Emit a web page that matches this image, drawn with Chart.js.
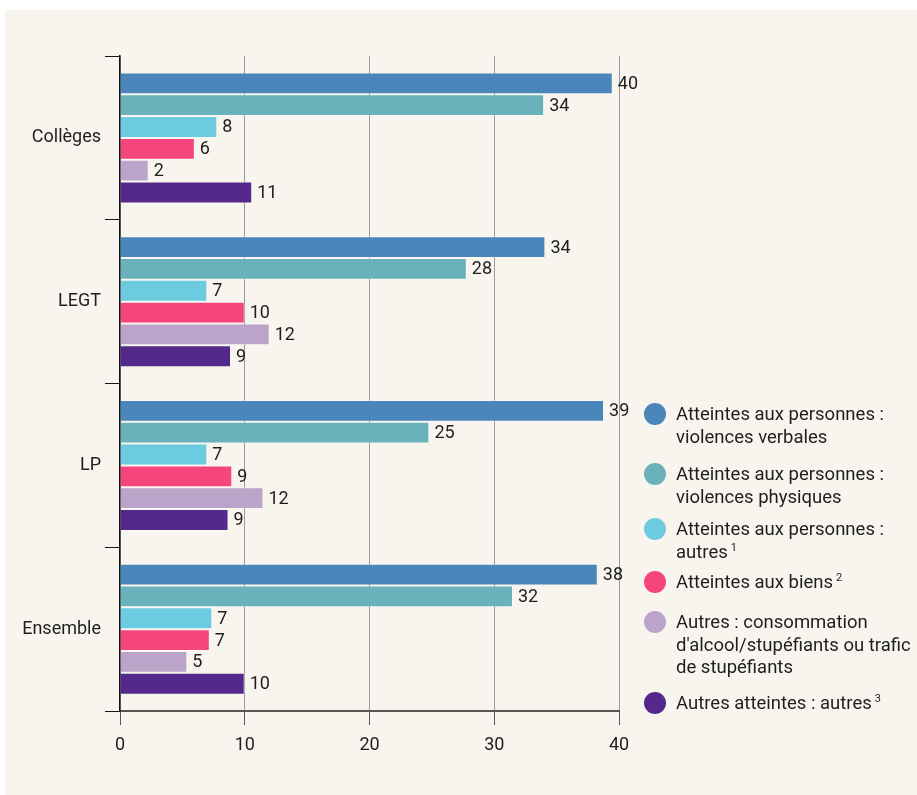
<!DOCTYPE html>
<html lang="fr">
<head>
<meta charset="utf-8">
<script src="https://cdn.jsdelivr.net/npm/chart.js@4/dist/chart.umd.min.js"></script>
<style>
  html, body { margin: 0; padding: 0; background: #fff; }
  body { width: 917px; height: 795px; position: relative; overflow: hidden; font-family: Roboto, "Noto Sans", sans-serif; }
  .panel { position: absolute; left: 5px; top: 10px; right: 0; bottom: 0; background: #f8f5ee; }
  .wrap { position: absolute; left: 0; top: 0; width: 917px; height: 795px; }
  .legend { position: absolute; left: 0; top: 0; }
  .item { position: absolute; left: 676px; font-size: 18.5px; line-height: 22.5px; color: #1e1e1e; white-space: nowrap; }
  .dot { position: absolute; left: -32px; width: 22px; height: 22px; border-radius: 50%; }
  sup { font-size: 11px; vertical-align: 0; position: relative; top: -7px; margin-left: 3px; }
</style>
</head>
<body>
<div class="panel"></div>
<div class="wrap"><canvas id="chart" width="917" height="795"></canvas></div>
<div class="legend" id="legend"></div>
<script>
const categories = ["Collèges", "LEGT", "LP", "Ensemble"];

// one array per series, in category order
const verbales        = [39.5, 34.1, 38.8, 38.3];
const physiques       = [34.0, 27.8, 24.8, 31.5];
const personnesAutres = [7.8, 7.0, 7.0, 7.4];
const biens           = [6.0, 10.0, 9.0, 7.2];
const stupefiants     = [2.3, 12.0, 11.5, 5.4];
const autresAtteintes = [10.6, 8.9, 8.7, 10.0];

const xTicks = [0, 10, 20, 30, 40];

const seriesLabels = [
  "Atteintes aux personnes :<br>violences verbales",
  "Atteintes aux personnes :<br>violences physiques",
  "Atteintes aux personnes :<br>autres<sup>1</sup>",
  "Atteintes aux biens<sup>2</sup>",
  "Autres : consommation<br>d'alcool/stupéfiants ou trafic<br>de stupéfiants",
  "Autres atteintes : autres<sup>3</sup>",
];

const COLORS = ["#4a86ba", "#6ab2bb", "#6dcbdf", "#f4457c", "#bca3ca", "#54298b"];
const LEGEND_TOP = [403, 463, 518, 571, 611, 692];
const TEXT = "#1e1e1e";
const FONT = { family: "Roboto, 'Noto Sans', sans-serif", size: 18 };

Chart.defaults.font.family = FONT.family;
Chart.defaults.font.size = FONT.size;
Chart.defaults.color = TEXT;

const valueLabels = {
  id: "valueLabels",
  afterDatasetsDraw(chart) {
    const ctx = chart.ctx;
    ctx.save();
    ctx.font = `${FONT.size}px ${FONT.family}`;
    ctx.fillStyle = TEXT;
    ctx.textBaseline = "middle";
    chart.data.datasets.forEach((ds, i) => {
      chart.getDatasetMeta(i).data.forEach((bar, j) => {
        ctx.fillText(String(Math.round(ds.data[j])), bar.x + 5, bar.y + 1);
      });
    });
    ctx.restore();
  },
};

const allSeries = [verbales, physiques, personnesAutres, biens, stupefiants, autresAtteintes];

new Chart(document.getElementById("chart").getContext("2d"), {
  type: "bar",
  data: {
    labels: categories,
    datasets: allSeries.map((data, i) => ({
      label: seriesLabels[i].replace(/<[^>]+>/g, " "),
      data,
      backgroundColor: COLORS[i],
      borderColor: "rgba(255,255,255,0.35)",
      borderWidth: 1,
      barPercentage: 1,
      categoryPercentage: 0.8,
    })),
  },
  plugins: [valueLabels],
  options: {
    indexAxis: "y",
    responsive: false,
    animation: false,
    layout: { padding: { left: 0, right: 298, top: 56, bottom: 0 } },
    plugins: { legend: { display: false }, tooltip: { enabled: false } },
    scales: {
      x: {
        min: 0, max: 40,
        afterFit: (s) => { s.height = 84; },
        afterBuildTicks: (s) => { s.ticks = xTicks.map(v => ({ value: v })); },
        grid: { color: "#9a9a9a", tickColor: "#555", tickLength: 14, lineWidth: 1 },
        border: { color: "#555", width: 2 },
        ticks: { padding: 10, color: TEXT, font: { size: 18 } },
      },
      y: {
        afterFit: (s) => { s.width = 120; },
        grid: { drawOnChartArea: false, offset: true, color: "#111", tickLength: 15 },
        border: { color: "#111", width: 1.5 },
        ticks: { padding: 4, color: TEXT, font: { size: 18 } },
      },
    },
  },
});

const legend = document.getElementById("legend");
seriesLabels.forEach((txt, i) => {
  const el = document.createElement("div");
  el.className = "item";
  el.style.top = LEGEND_TOP[i] + "px";
  el.innerHTML = `<span class="dot" style="background:${COLORS[i]};top:0px"></span>${txt}`;
  legend.appendChild(el);
});
</script>
</body>
</html>
